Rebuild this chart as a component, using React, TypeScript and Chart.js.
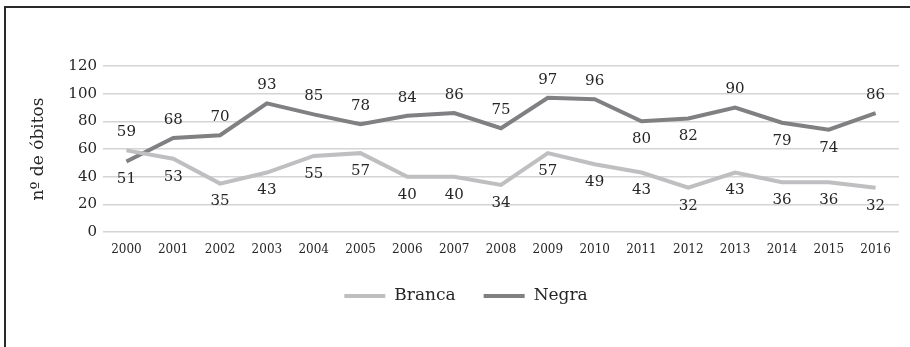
import React, { useEffect, useRef } from "react";
import { Chart, registerables } from "chart.js";

Chart.register(...registerables);

const years = ["2000", "2001", "2002", "2003", "2004", "2005", "2006", "2007", "2008", "2009", "2010", "2011", "2012", "2013", "2014", "2015", "2016"];
const branca = [59, 53, 35, 43, 55, 57, 40, 40, 34, 57, 49, 43, 32, 43, 36, 36, 32];
const negra = [51, 68, 70, 93, 85, 78, 84, 86, 75, 97, 96, 80, 82, 90, 79, 74, 86];

// which side of the line each value label sits on (1 = above, -1 = below)
const brancaSide = [1, -1, -1, -1, -1, -1, -1, -1, -1, -1, -1, -1, -1, -1, -1, -1, -1];
const negraSide = [-1, 1, 1, 1, 1, 1, 1, 1, 1, 1, 1, -1, -1, 1, -1, -1, 1];

const FONT = "'DejaVu Serif', serif";
const TEXT = "#262626";

// value printed next to every point
const valueLabels = {
  id: "valueLabels",
  afterDatasetsDraw(chart: any) {
    const ctx = chart.ctx;
    ctx.save();
    ctx.font = `15px ${FONT}`;
    ctx.fillStyle = TEXT;
    ctx.textAlign = "center";
    ctx.textBaseline = "middle";
    chart.data.datasets.forEach((ds: any, i: number) => {
      const meta = chart.getDatasetMeta(i);
      const sides: number[] = ds.labelSides;
      meta.data.forEach((pt: any, j: number) => {
        ctx.fillText(String(ds.data[j]), pt.x, pt.y - 18 * sides[j]);
      });
    });
    ctx.restore();
  },
};

// line-swatch legend centred under the axis
const lineLegend = {
  id: "lineLegend",
  afterDraw(chart: any) {
    const ctx = chart.ctx;
    const swatch = 41;
    const gapText = 9;
    const gapItem = 28;
    ctx.save();
    ctx.font = `17px ${FONT}`;
    ctx.textBaseline = "middle";
    ctx.textAlign = "left";
    const items = chart.data.datasets.map((ds: any) => ({
      label: ds.label,
      color: ds.borderColor,
      w: ctx.measureText(ds.label).width,
    }));
    const total =
      items.reduce((s: number, it: any) => s + swatch + gapText + it.w, 0) + gapItem * (items.length - 1);
    const cy = chart.chartArea.bottom + 64;
    let x = chart.chartArea.left + chart.chartArea.width / 2 - 35 - total / 2;
    items.forEach((it: any) => {
      ctx.fillStyle = it.color;
      ctx.fillRect(x, cy - 2, swatch, 4);
      x += swatch + gapText;
      ctx.fillStyle = TEXT;
      ctx.fillText(it.label, x, cy);
      x += it.w + gapItem;
    });
    ctx.restore();
  },
};

export default function App() {
  const ref = useRef<HTMLCanvasElement>(null);

  useEffect(() => {
    document.body.style.margin = "0";
    const chart = new Chart(ref.current!, {
      type: "line",
      data: {
        labels: years,
        datasets: [
          {
            label: "Branca",
            data: branca,
            borderColor: "#bfbfc1",
            backgroundColor: "#bfbfc1",
            borderWidth: 4,
            pointRadius: 0,
            tension: 0,
            labelSides: brancaSide,
          } as any,
          {
            label: "Negra",
            data: negra,
            borderColor: "#808083",
            backgroundColor: "#808083",
            borderWidth: 4,
            pointRadius: 0,
            tension: 0,
            labelSides: negraSide,
          } as any,
        ],
      },
      options: {
        animation: false,
        responsive: false,
        layout: { padding: { top: 66, right: 11, bottom: 80, left: 0 } },
        plugins: {
          tooltip: { enabled: false },
          legend: { display: false },
        },
        scales: {
          x: {
            offset: true,
            grid: { display: false },
            border: { display: false },
            ticks: {
              color: TEXT,
              font: { family: FONT, size: 12 },
              padding: 3,
              maxRotation: 0,
            },
            afterFit: (s: any) => {
              s.height = 35;
            },
          },
          y: {
            min: 0,
            max: 120,
            ticks: {
              stepSize: 20,
              color: TEXT,
              font: { family: FONT, size: 15 },
              padding: 6,
            },
            grid: { color: "#d4d4d4", lineWidth: 1.5, drawTicks: false },
            border: { display: false },
            title: {
              display: true,
              text: "nº de óbitos",
              color: TEXT,
              font: { family: FONT, size: 17 },
              padding: { top: 28, bottom: 0 },
            },
            afterFit: (s: any) => {
              s.width = 103;
            },
          },
        },
      },
      plugins: [valueLabels, lineLegend],
    });
    return () => chart.destroy();
  }, []);

  return (
    <div style={{ position: "relative", width: 910, height: 347, overflow: "hidden", background: "#fff" }}>
      <canvas ref={ref} width={910} height={347} style={{ position: "absolute", left: 0, top: 0 }} />
      <div
        style={{
          position: "absolute",
          left: 4,
          top: 6,
          width: 940,
          height: 380,
          borderTop: "2px solid #2a2a2a",
          borderLeft: "2px solid #2a2a2a",
          pointerEvents: "none",
        }}
      />
    </div>
  );
}
